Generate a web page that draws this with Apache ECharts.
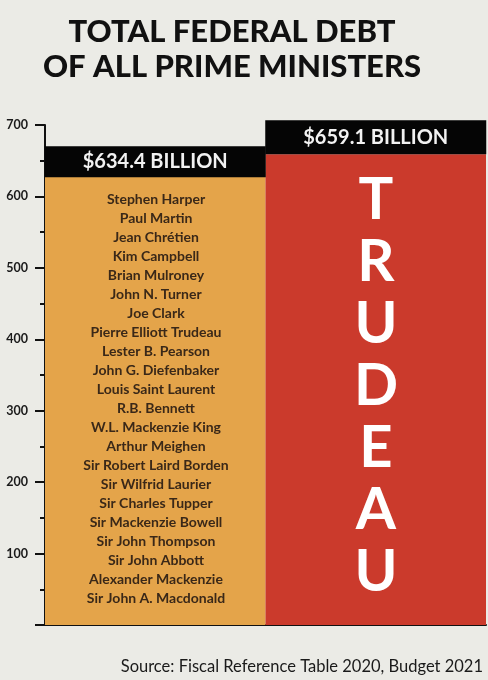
<!DOCTYPE html>
<html>
<head>
<meta charset="utf-8">
<script src="https://cdn.jsdelivr.net/npm/echarts@6/dist/echarts.min.js"></script>
<style>
html,body{margin:0;padding:0;background:#ebebe6;}
#c{width:488px;height:680px;}
</style>
</head>
<body>
<div id="c"></div>
<script>
const categories = ['All other Prime Ministers', 'Trudeau'];
const debtValues = [634.4, 659.1];
const valueLabels = ['$634.4 BILLION', '$659.1 BILLION'];
const primeMinisters = [
  'Stephen Harper', 'Paul Martin', 'Jean Chrétien', 'Kim Campbell', 'Brian Mulroney',
  'John N. Turner', 'Joe Clark', 'Pierre Elliott Trudeau', 'Lester B. Pearson',
  'John G. Diefenbaker', 'Louis Saint Laurent', 'R.B. Bennett', 'W.L. Mackenzie King',
  'Arthur Meighen', 'Sir Robert Laird Borden', 'Sir Wilfrid Laurier', 'Sir Charles Tupper',
  'Sir Mackenzie Bowell', 'Sir John Thompson', 'Sir John Abbott', 'Alexander Mackenzie',
  'Sir John A. Macdonald'
];
const bigName = 'TRUDEAU';
const titleLines = ['TOTAL FEDERAL DEBT', 'OF ALL PRIME MINISTERS'];
const sourceText = 'Source: Fiscal Reference Table 2020, Budget 2021';

const barColors = ['#e4a44a', '#cb3a2c'];
const labelOffsets = [-10, -17];
const labelHeights = [31, 34];

const chart = echarts.init(document.getElementById('c'));
const option = {
  backgroundColor: '#ebebe6',
  animation: false,
  grid: { left: 45, right: 2, top: 125, bottom: 55 },
  xAxis: {
    type: 'category',
    data: categories,
    axisLine: { show: true, lineStyle: { color: '#111', width: 2 } },
    axisTick: { show: false },
    axisLabel: { show: false }
  },
  yAxis: {
    type: 'value',
    min: 0, max: 700, interval: 100,
    axisLine: { show: true, lineStyle: { color: '#111', width: 2 } },
    axisTick: { show: true, inside: false, length: 10, lineStyle: { color: '#111', width: 2 } },
    minorTick: { show: true, splitNumber: 2, length: 5, lineStyle: { color: '#111', width: 2 } },
    splitLine: { show: false },
    axisLabel: {
      color: '#1a1a1a', fontFamily: 'Lato', fontWeight: 'bold', fontSize: 12.5, margin: 17,
      formatter: v => v === 0 ? '' : v
    }
  },
  series: [{
    type: 'bar',
    barCategoryGap: '0%',
    data: debtValues.map((v, i) => ({
      value: v,
      itemStyle: { color: barColors[i] },
      label: {
        show: true,
        position: 'insideTop',
        distance: 0,
        offset: [0, labelOffsets[i]],
        formatter: valueLabels[i],
        backgroundColor: '#050505',
        color: '#f2f2f2',
        fontFamily: 'Lato',
        fontWeight: 'bold',
        fontSize: 20,
        width: 221,
        height: labelHeights[i],
        lineHeight: labelHeights[i],
        align: 'center',
        verticalAlign: 'middle'
      }
    }))
  }],
  graphic: [
    {
      type: 'text', x: 232, y: 14, z: 100,
      style: {
        text: titleLines.join('\n'), textAlign: 'center',
        font: '900 31px Lato', lineHeight: 35, fill: '#111'
      }
    },
    {
      type: 'text', x: 156, y: 190, z: 100,
      style: {
        text: primeMinisters.join('\n'), textAlign: 'center',
        font: 'bold 14px Lato', lineHeight: 19, fill: '#3a2818'
      }
    },
    {
      type: 'text', x: 376, y: 169, z: 100,
      style: {
        text: bigName.split('').join('\n'), textAlign: 'center',
        font: 'bold 58px Lato', lineHeight: 62, fill: '#ffffff'
      }
    },
    {
      type: 'text', x: 483, y: 658, z: 100,
      style: {
        text: sourceText, textAlign: 'right',
        font: '16.5px Lato', fill: '#1a1a1a'
      }
    }
  ]
};
chart.setOption(option);
</script>
</body>
</html>
